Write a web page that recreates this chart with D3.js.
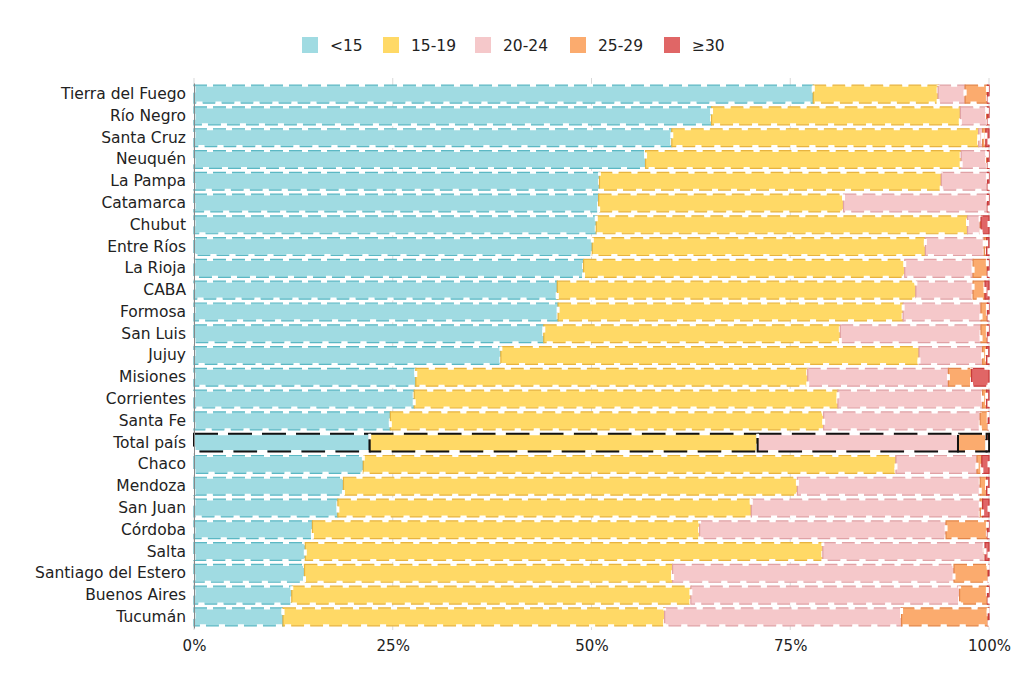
<!DOCTYPE html>
<html>
<head>
<meta charset="utf-8">
<script src="https://cdn.jsdelivr.net/npm/d3@7"></script>
<style>
  body { margin: 0; background: #fff; }
  text { font-family: "DejaVu Sans", sans-serif; fill: #222; }
</style>
</head>
<body>
<div id="chart"></div>
<script>
var svgWidth = 1024;
var svgHeight = 695;

// provinces, top to bottom
var provinces = ["Tierra del Fuego", "Río Negro", "Santa Cruz", "Neuquén", "La Pampa",
  "Catamarca", "Chubut", "Entre Ríos", "La Rioja", "CABA", "Formosa", "San Luis", "Jujuy",
  "Misiones", "Corrientes", "Santa Fe", "Total país", "Chaco", "Mendoza", "San Juan",
  "Córdoba", "Salta", "Santiago del Estero", "Buenos Aires", "Tucumán"];

var ageGroups = ["<15", "15-19", "20-24", "25-29", "≥30"];

// share (%) of each age group, one value per province
var under15 = [77.9, 65.1, 60.1, 56.8, 51.0, 50.9, 50.6, 50.1, 49.0, 45.7, 45.8, 44.0, 38.6,
  27.9, 27.7, 24.7, 22.1, 21.3, 18.8, 18.1, 14.9, 14.0, 13.9, 12.3, 11.2];
var age15to19 = [15.7, 31.3, 38.6, 39.7, 43.0, 30.8, 46.7, 41.9, 40.4, 45.1, 43.4, 37.3, 52.6,
  49.3, 53.3, 54.5, 48.8, 67.0, 57.1, 52.0, 48.7, 65.1, 46.3, 50.2, 48.0];
var age20to24 = [3.4, 3.3, 0.5, 3.2, 5.8, 18.1, 1.6, 7.4, 8.6, 7.2, 9.8, 17.7, 8.0,
  17.7, 18.2, 19.7, 25.2, 10.2, 23.0, 28.8, 31.0, 20.3, 35.4, 33.8, 29.8];
var age25to29 = [2.8, 0.1, 0.4, 0.1, 0.0, 0.0, 0.1, 0.3, 1.8, 1.5, 0.8, 0.8, 0.5,
  2.9, 0.5, 1.0, 3.6, 0.6, 0.8, 0.3, 5.2, 0.1, 4.3, 3.5, 10.9];
var age30plus = [0.2, 0.2, 0.4, 0.2, 0.2, 0.2, 1.0, 0.3, 0.2, 0.5, 0.2, 0.2, 0.3,
  2.2, 0.3, 0.1, 0.3, 0.9, 0.3, 0.8, 0.2, 0.5, 0.1, 0.2, 0.1];

var xTicks = [0, 25, 50, 75, 100];

var fills = ["#a0dbe2", "#ffd966", "#f5c8ca", "#fbab6e", "#e06666"];
var edges = ["#5cb8c4", "#e8b440", "#e0a2a6", "#e4864a", "#c83a3a"];

var margin = { top: 83, right: 35, bottom: 67, left: 194 };
var width = svgWidth - margin.left - margin.right;
var height = svgHeight - margin.top - margin.bottom;

var table = provinces.map(function(p, i) {
  return { name: p, "<15": under15[i], "15-19": age15to19[i], "20-24": age20to24[i],
           "25-29": age25to29[i], "≥30": age30plus[i] };
});
// normalise rows to 100%
table.forEach(function(d) {
  var tot = d3.sum(ageGroups, k => d[k]);
  ageGroups.forEach(k => d[k] = d[k] * 100 / tot);
});

var series = d3.stack().keys(ageGroups)(table);

var svg = d3.select("#chart").append("svg")
  .attr("width", svgWidth)
  .attr("height", svgHeight);

var chartGroup = svg.append("g")
  .attr("transform", `translate(${margin.left}, ${margin.top})`);

var x = d3.scaleLinear().domain([0, 100]).range([0, width]);
var y = d3.scaleBand().domain(provinces).range([0, height]).paddingInner(0.18).paddingOuter(0.1);

// grid
chartGroup.append("g").selectAll("line")
  .data(xTicks)
  .enter().append("line")
  .attr("x1", d => x(d)).attr("x2", d => x(d))
  .attr("y1", -5).attr("y2", height + 2)
  .attr("stroke", "#d9d9d9");

// bars
var layers = chartGroup.selectAll("g.layer")
  .data(series)
  .enter().append("g")
  .attr("class", "layer");

var segs = layers.selectAll("g")
  .data(function(s, i) { return s.map(function(d) { d.idx = i; return d; }); })
  .enter().append("g");

function segAttrs(sel) {
  return sel
    .attr("x", d => x(d[0]))
    .attr("y", d => y(d.data.name))
    .attr("width", d => Math.max(0, x(d[1]) - x(d[0])))
    .attr("height", y.bandwidth());
}

var isTotal = d => d.data.name === "Total país";

segs.append("rect").call(segAttrs)
  .attr("fill", d => fills[d.idx])
  .attr("stroke", d => isTotal(d) ? "#111" : edges[d.idx])
  .attr("stroke-width", d => isTotal(d) ? 2 : 1.2)
  .attr("stroke-dasharray", d => isTotal(d) ? "24,10" : "13,6");

segs.append("rect").call(segAttrs)
  .attr("fill", "none")
  .attr("stroke", "#fff")
  .attr("stroke-width", 3)
  .attr("stroke-dasharray", d => isTotal(d) ? "10,24" : "6,13")
  .attr("stroke-dashoffset", d => isTotal(d) ? -24 : -13);

// y axis
var yAxis = chartGroup.append("g")
  .call(d3.axisLeft(y).tickSize(0).tickPadding(8));
yAxis.select(".domain").attr("stroke", "#888");
yAxis.selectAll("text").style("font-size", "15.5px").style("fill", "#222");

// x axis
var xAxis = chartGroup.append("g")
  .attr("transform", `translate(0, ${height})`)
  .call(d3.axisBottom(x).tickValues(xTicks).tickSize(0).tickPadding(12).tickFormat(d => d + "%"));
xAxis.select(".domain").remove();
xAxis.selectAll("text").style("font-size", "15px").style("fill", "#222");

// legend
var legendX = [302, 383, 475, 570, 664];
var legend = svg.append("g").selectAll("g")
  .data(ageGroups)
  .enter().append("g")
  .attr("transform", (d, i) => `translate(${legendX[i]}, 37)`);
legend.append("rect")
  .attr("width", 16).attr("height", 16)
  .attr("fill", (d, i) => fills[i]);
legend.append("text")
  .attr("x", 28).attr("y", 14)
  .style("font-size", "15.5px")
  .text(d => d);
</script>
</body>
</html>
